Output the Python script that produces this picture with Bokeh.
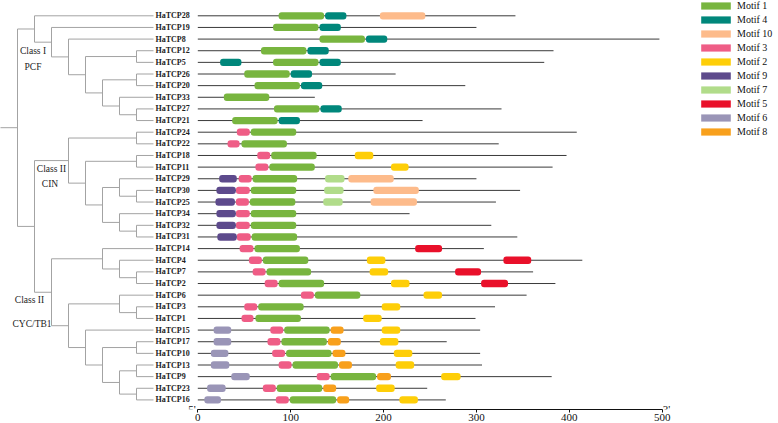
from bokeh.plotting import figure
from bokeh.models import (Range1d, LinearAxis, FixedTicker, Label, Legend,
                          LegendItem, ColumnDataSource)
from bokeh.core.properties import value
from bokeh.embed import file_html
from bokeh.resources import INLINE

# ---------------- data ----------------
genes = ["HaTCP28", "HaTCP19", "HaTCP8", "HaTCP12", "HaTCP5", "HaTCP26", "HaTCP20",
         "HaTCP33", "HaTCP27", "HaTCP21", "HaTCP24", "HaTCP22", "HaTCP18", "HaTCP11",
         "HaTCP29", "HaTCP30", "HaTCP25", "HaTCP34", "HaTCP32", "HaTCP31", "HaTCP14",
         "HaTCP4", "HaTCP7", "HaTCP2", "HaTCP6", "HaTCP3", "HaTCP1", "HaTCP15",
         "HaTCP17", "HaTCP10", "HaTCP13", "HaTCP9", "HaTCP23", "HaTCP16"]
lengths = [342, 300, 497, 383, 373, 213, 288, 126, 327, 242, 408, 324, 397, 382,
           300, 347, 321, 228, 316, 344, 308, 414, 361, 385, 354, 320, 299, 304,
           268, 304, 306, 381, 247, 267]

class_i = ("HaTCP28", ("HaTCP19", ("HaTCP8", (("HaTCP12", "HaTCP5"),
           (("HaTCP26", "HaTCP20"), ("HaTCP33", ("HaTCP27", "HaTCP21")))))))
class_cin = (("HaTCP24", "HaTCP22"), (("HaTCP18", "HaTCP11"),
             (("HaTCP29", ("HaTCP30", "HaTCP25")), ("HaTCP34", ("HaTCP32", "HaTCP31")))))
class_cyc = (("HaTCP14", ("HaTCP4", ("HaTCP7", "HaTCP2"))),
             (("HaTCP6", ("HaTCP3", "HaTCP1")),
              ("HaTCP15", (("HaTCP17", "HaTCP10"),
                           (("HaTCP13", "HaTCP9"), ("HaTCP23", "HaTCP16"))))))
tree = (class_i, (class_cin, class_cyc))

legend_motifs = ["Motif 1", "Motif 4", "Motif 10", "Motif 3", "Motif 2",
                 "Motif 9", "Motif 7", "Motif 5", "Motif 6", "Motif 8"]
motif_colors = ["#78b53f", "#00877b", "#fdbb8b", "#ef5d86", "#fece08",
                "#5d4a8c", "#b1dc8a", "#e9102a", "#9a95b7", "#f8a01c"]

hit_gene = ["HaTCP28", "HaTCP28", "HaTCP28",
            "HaTCP19", "HaTCP19",
            "HaTCP8", "HaTCP8",
            "HaTCP12", "HaTCP12",
            "HaTCP5", "HaTCP5", "HaTCP5",
            "HaTCP26", "HaTCP26",
            "HaTCP20", "HaTCP20",
            "HaTCP33",
            "HaTCP27", "HaTCP27",
            "HaTCP21", "HaTCP21",
            "HaTCP24", "HaTCP24",
            "HaTCP22", "HaTCP22",
            "HaTCP18", "HaTCP18", "HaTCP18",
            "HaTCP11", "HaTCP11", "HaTCP11",
            "HaTCP29", "HaTCP29", "HaTCP29", "HaTCP29", "HaTCP29",
            "HaTCP30", "HaTCP30", "HaTCP30", "HaTCP30", "HaTCP30",
            "HaTCP25", "HaTCP25", "HaTCP25", "HaTCP25", "HaTCP25",
            "HaTCP34", "HaTCP34", "HaTCP34",
            "HaTCP32", "HaTCP32", "HaTCP32",
            "HaTCP31", "HaTCP31", "HaTCP31",
            "HaTCP14", "HaTCP14", "HaTCP14",
            "HaTCP4", "HaTCP4", "HaTCP4", "HaTCP4",
            "HaTCP7", "HaTCP7", "HaTCP7", "HaTCP7",
            "HaTCP2", "HaTCP2", "HaTCP2", "HaTCP2",
            "HaTCP6", "HaTCP6", "HaTCP6",
            "HaTCP3", "HaTCP3", "HaTCP3",
            "HaTCP1", "HaTCP1", "HaTCP1",
            "HaTCP15", "HaTCP15", "HaTCP15", "HaTCP15", "HaTCP15",
            "HaTCP17", "HaTCP17", "HaTCP17", "HaTCP17", "HaTCP17",
            "HaTCP10", "HaTCP10", "HaTCP10", "HaTCP10", "HaTCP10",
            "HaTCP13", "HaTCP13", "HaTCP13", "HaTCP13", "HaTCP13",
            "HaTCP9", "HaTCP9", "HaTCP9", "HaTCP9", "HaTCP9",
            "HaTCP23", "HaTCP23", "HaTCP23", "HaTCP23", "HaTCP23",
            "HaTCP16", "HaTCP16", "HaTCP16", "HaTCP16", "HaTCP16"]
hit_motif = ["Motif 1", "Motif 4", "Motif 10",
             "Motif 1", "Motif 4",
             "Motif 1", "Motif 4",
             "Motif 1", "Motif 4",
             "Motif 4", "Motif 1", "Motif 4",
             "Motif 1", "Motif 4",
             "Motif 1", "Motif 4",
             "Motif 1",
             "Motif 1", "Motif 4",
             "Motif 1", "Motif 4",
             "Motif 3", "Motif 1",
             "Motif 3", "Motif 1",
             "Motif 3", "Motif 1", "Motif 2",
             "Motif 3", "Motif 1", "Motif 2",
             "Motif 9", "Motif 3", "Motif 1", "Motif 7", "Motif 10",
             "Motif 9", "Motif 3", "Motif 1", "Motif 7", "Motif 10",
             "Motif 9", "Motif 3", "Motif 1", "Motif 7", "Motif 10",
             "Motif 9", "Motif 3", "Motif 1",
             "Motif 9", "Motif 3", "Motif 1",
             "Motif 9", "Motif 3", "Motif 1",
             "Motif 3", "Motif 1", "Motif 5",
             "Motif 3", "Motif 1", "Motif 2", "Motif 5",
             "Motif 3", "Motif 1", "Motif 2", "Motif 5",
             "Motif 3", "Motif 1", "Motif 2", "Motif 5",
             "Motif 3", "Motif 1", "Motif 2",
             "Motif 3", "Motif 1", "Motif 2",
             "Motif 3", "Motif 1", "Motif 2",
             "Motif 6", "Motif 3", "Motif 1", "Motif 8", "Motif 2",
             "Motif 6", "Motif 3", "Motif 1", "Motif 8", "Motif 2",
             "Motif 6", "Motif 3", "Motif 1", "Motif 8", "Motif 2",
             "Motif 6", "Motif 3", "Motif 1", "Motif 8", "Motif 2",
             "Motif 6", "Motif 3", "Motif 1", "Motif 8", "Motif 2",
             "Motif 6", "Motif 3", "Motif 1", "Motif 8", "Motif 2",
             "Motif 6", "Motif 3", "Motif 1", "Motif 8", "Motif 2"]
hit_start = [87, 137, 196,
             81, 131,
             131, 181,
             68, 118,
             24, 81, 131,
             50, 100,
             61, 111,
             28,
             82, 132,
             37, 87,
             42, 57,
             32, 47,
             64, 79, 169,
             62, 77, 208,
             23, 44, 59, 137, 162,
             20, 41, 57, 136, 189,
             19, 41, 56, 135, 186,
             20, 41, 57,
             20, 41, 57,
             21, 42, 58,
             45, 61, 234,
             55, 70, 182, 329,
             59, 74, 185, 277,
             72, 87, 208, 305,
             111, 126, 243,
             50, 65, 198,
             47, 62, 178,
             17, 78, 93, 143, 198,
             17, 75, 90, 140, 196,
             14, 80, 95, 145, 211,
             14, 87, 102, 152, 213,
             36, 128, 143, 193, 262,
             10, 70, 85, 135, 192,
             7, 84, 99, 150, 217]
hit_end = [136, 160, 245,
           130, 154,
           180, 204,
           117, 141,
           47, 130, 154,
           99, 123,
           110, 134,
           77,
           131, 155,
           86, 110,
           56, 106,
           45, 96,
           78, 128, 189,
           76, 126, 227,
           42, 58, 107, 158, 211,
           41, 56, 106, 157, 238,
           40, 55, 105, 156, 236,
           41, 56, 106,
           41, 56, 106,
           42, 57, 107,
           60, 110, 263,
           69, 119, 202, 359,
           73, 122, 205, 305,
           86, 136, 228, 334,
           125, 175, 263,
           64, 114, 218,
           60, 111, 198,
           36, 92, 142, 157, 218,
           36, 89, 139, 154, 216,
           33, 94, 144, 159, 231,
           34, 101, 151, 166, 233,
           56, 142, 192, 208, 283,
           30, 84, 134, 149, 212,
           25, 98, 149, 163, 237]

class_labels = ["Class I", "PCF", "Class II", "CIN", "Class II", "CYC/TB1"]
axis_ticks = [0, 100, 200, 300, 400, 500]

# ---------------- layout constants (page pixels) ----------------
W, H = 778, 423
X0PX = 197.3          # px of residue 0
PXU = 0.9288          # px per residue
ROW0, ROWH, FRAME_H = 15.3, 11.64, 409.0
x_start = -X0PX / PXU
x_end = (W - X0PX) / PXU
y_top = -ROW0 / ROWH
y_bot = (FRAME_H - ROW0) / ROWH


def px2x(px):
    return (px - X0PX) / PXU


STEP = 17.0 / PXU
LEAF_X = px2x(153.0)
LABEL_X = px2x(155.0)

p = figure(width=W, height=H, output_backend="svg", toolbar_location=None,
           x_range=Range1d(x_start, x_end), y_range=Range1d(y_bot, y_top),
           x_axis_location=None, y_axis_location=None, min_border=0)
p.outline_line_color = None
p.xgrid.visible = False
p.ygrid.visible = False
p.background_fill_color = "white"
p.border_fill_color = "white"

row_of = {g: i for i, g in enumerate(genes)}

# ---------------- tree ----------------
tx0, ty0, tx1, ty1 = [], [], [], []


def walk(node):
    if isinstance(node, str):
        return float(row_of[node]), 0
    kids = [walk(c) for c in node]
    h = max(k[1] for k in kids) + 1
    nx = LEAF_X - h * STEP
    ys = [k[0] for k in kids]
    tx0.append(nx); ty0.append(min(ys)); tx1.append(nx); ty1.append(max(ys))
    for cy, ch in kids:
        tx0.append(nx); ty0.append(cy); tx1.append(LEAF_X - ch * STEP); ty1.append(cy)
    return (min(ys) + max(ys)) / 2.0, h


ry, rh = walk(tree)
tx0.append(LEAF_X - (rh + 1.2) * STEP); ty0.append(ry)
tx1.append(LEAF_X - rh * STEP); ty1.append(ry)
p.segment(x0=tx0, y0=ty0, x1=tx1, y1=ty1, line_color="#a3a3a3", line_width=1)

# ---------------- gene labels ----------------
p.text(x=[LABEL_X] * len(genes), y=list(range(len(genes))), text=genes,
       text_font=value("Liberation Serif"), text_font_style="bold",
       text_font_size="8px", text_baseline="middle", text_align="left",
       text_color="#222222")

# ---------------- protein lines ----------------
p.segment(x0=[0] * len(genes), y0=list(range(len(genes))), x1=lengths,
          y1=list(range(len(genes))), line_color="#3a3a3a", line_width=1)

# ---------------- motifs ----------------
items = []
for name, col in zip(legend_motifs, motif_colors):
    ys = [row_of[g] for g, m in zip(hit_gene, hit_motif) if m == name]
    ls = [s for s, m in zip(hit_start, hit_motif) if m == name]
    rs = [e for e, m in zip(hit_end, hit_motif) if m == name]
    src = ColumnDataSource(dict(y=ys, left=ls, right=rs))
    r = p.hbar(y="y", left="left", right="right", height=0.63, source=src,
               fill_color=col, line_color=None, border_radius=3)
    items.append(LegendItem(label=name, renderers=[r]))

legend = Legend(items=items, location="top_right", orientation="vertical",
                margin=0, padding=0, spacing=3, glyph_width=37, glyph_height=9,
                label_height=9, label_width=41, label_standoff=3,
                label_text_font="Liberation Serif", label_text_font_size="10px",
                label_text_color="#111111", label_text_baseline="middle",
                background_fill_alpha=0, border_line_alpha=0)
p.add_layout(legend)

# ---------------- class labels ----------------
cl_x = [px2x(32.5), px2x(32.5), px2x(51.0), px2x(49.5), px2x(29.0), px2x(31.5)]
cl_y = [3.0, 4.36, 13.15, 14.49, 24.4, 26.46]
for t, x, y in zip(class_labels, cl_x, cl_y):
    p.add_layout(Label(x=x, y=y, text=t, text_font="Liberation Serif",
                       text_font_size="9.5px", text_align="center",
                       text_baseline="middle", text_color="#222222"))

# ---------------- axis ----------------
axis = LinearAxis(ticker=FixedTicker(ticks=axis_ticks), bounds=(0, 500))
axis.axis_line_color = "#111111"
axis.axis_line_width = 1
axis.major_tick_line_color = "#111111"
axis.major_tick_in = 0
axis.major_tick_out = 3
axis.minor_tick_in = 0
axis.minor_tick_out = 0
axis.major_label_standoff = 1
axis.major_label_text_font = "Liberation Serif"
axis.major_label_text_font_size = "11px"
axis.major_label_text_color = "#111111"
p.add_layout(axis, "below")

p.add_layout(Label(x=px2x(191.5), y=y_bot - 0.06, text="5'",
                   text_font="Liberation Serif", text_font_size="11px",
                   text_align="center", text_baseline="alphabetic",
                   text_color="#111111"))
p.add_layout(Label(x=px2x(666.0), y=y_bot - 0.06, text="3'",
                   text_font="Liberation Serif", text_font_size="11px",
                   text_align="center", text_baseline="alphabetic",
                   text_color="#111111"))

open("out.html", "w").write(file_html(p, INLINE))
